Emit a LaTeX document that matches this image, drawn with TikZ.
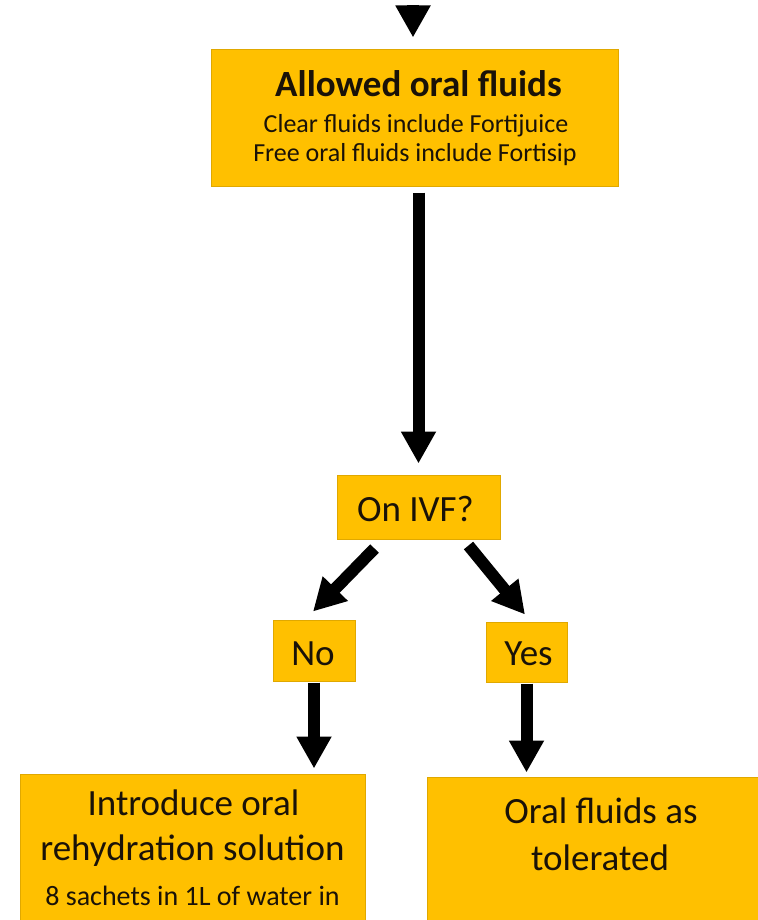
\documentclass[tikz,border=0pt]{standalone}
\usepackage{fontspec}
\setmainfont{Carlito}
\usetikzlibrary{arrows.meta,calc}
\definecolor{boxfill}{HTML}{FFC000}
\definecolor{boxline}{HTML}{E0A800}
\definecolor{txt}{HTML}{1A1208}
\tikzset{
  box/.style={rectangle, fill=boxfill, draw=boxline, line width=1pt, inner sep=0pt},
  arr/.style={line width=12pt, -{Triangle[width=33pt,length=32pt]}},
  big/.style={anchor=base, inner sep=0pt, text=txt, font=\fontsize{37}{44}\selectfont},
  small/.style={anchor=base, inner sep=0pt, text=txt, font=\fontsize{26}{31}\selectfont},
}
\begin{document}
\begin{tikzpicture}[x=1pt,y=-1pt]
\useasboundingbox (0,0) rectangle (757,920);
% boxes
\node[box, minimum width=407pt, minimum height=137pt] (top) at (414.5,118.5) {};
\node[box, minimum width=163pt, minimum height=64pt] (ivf) at (418.5,507) {};
\node[box, minimum width=82pt, minimum height=61pt] (no) at (314,650.5) {};
\node[box, minimum width=81pt, minimum height=60pt] (yes) at (526.5,652) {};
\node[box, minimum width=345pt, minimum height=176pt] (lb) at (192.5,862) {};
\node[box, minimum width=353pt, minimum height=173pt] (rb) at (603.5,863.5) {};
% texts
\node[big, font=\fontsize{37}{44}\selectfont\bfseries] (t1) at (418.5,97) {Allowed oral fluids};
\node[small] (t2) at (416,133) {Clear fluids include Fortijuice};
\node[small] (t3) at (415,161) {Free oral fluids include Fortisip};
\node[big] (t4) at (415.5,521) {On IVF?};
\node[big] (t5) at (313,665) {No};
\node[big] (t6) at (528.5,665) {Yes};
\node[big] (t7) at (193.5,815) {Introduce oral};
\node[big] (t8) at (192.5,860) {rehydration solution};
\node[small, font=\fontsize{28}{33}\selectfont] (t9) at (192.5,905) {8 sachets in 1L of water in};
\node[big] (t10) at (601,823) {Oral fluids as};
\node[big] (t11) at (600,870) {tolerated};
% connectors
\coordinate (in) at (413,5);
\draw[arr, shorten >=12pt] (in) -- (in |- top.north);
\draw[arr, shorten <=5pt, shorten >=11pt] (top.south -| ivf) -- (ivf.north);
\coordinate (ivfL) at ($(ivf.south west)+(38,9)$);
\coordinate (noT) at ($(no.north)+(-1,-8)$);
\draw[arr] (ivfL) -- (noT);
\coordinate (ivfR) at ($(ivf.south east)+(-32,6)$);
\coordinate (yesT) at ($(yes.north)+(-1.5,-7)$);
\draw[arr] (ivfR) -- (yesT);
\draw[arr, shorten <=1pt, shorten >=5pt] (no.south) -- (no.south |- lb.north);
\draw[arr, shorten <=1pt, shorten >=4pt] (yes.south) -- (yes.south |- rb.north);
\end{tikzpicture}
\end{document}
